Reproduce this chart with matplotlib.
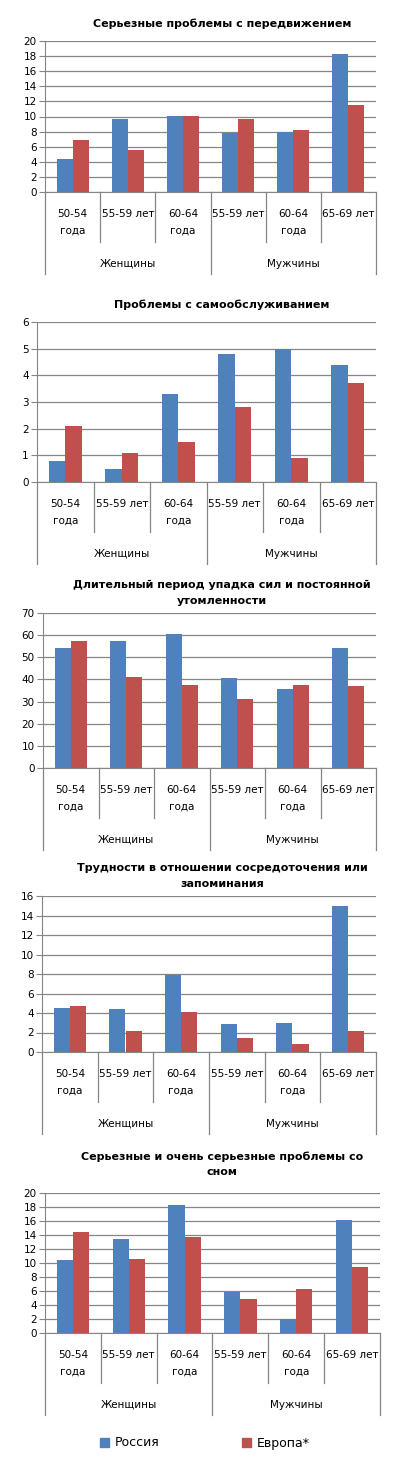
import numpy as np
import matplotlib
matplotlib.use("Agg")
import matplotlib.pyplot as plt
from matplotlib.transforms import blended_transform_factory
from matplotlib.patches import Patch

W, H = 395, 1465

categories = ["50-54\nгода", "55-59 лет", "60-64\nгода", "55-59 лет", "60-64\nгода", "65-69 лет"]
groups = ["Женщины", "Мужчины"]
series_names = ["Россия", "Европа*"]

titles = [
    "Серьезные проблемы с передвижением",
    "Проблемы с самообслуживанием",
    "Длительный период упадка сил и постоянной\nутомленности",
    "Трудности в отношении сосредоточения или\nзапоминания",
    "Серьезные и очень серьезные проблемы со\nсном",
]

russia = [
    [4.4, 9.7, 10.1, 7.8, 8.0, 18.3],
    [0.8, 0.5, 3.3, 4.8, 5.0, 4.4],
    [54.0, 57.5, 60.7, 40.5, 35.5, 54.0],
    [4.5, 4.4, 7.9, 2.9, 3.0, 15.0],
    [10.4, 13.5, 18.3, 5.9, 2.0, 16.2],
]
europe = [
    [6.9, 5.6, 10.1, 9.7, 8.2, 11.5],
    [2.1, 1.1, 1.5, 2.8, 0.9, 3.7],
    [57.5, 41.0, 37.4, 31.0, 37.4, 37.0],
    [4.7, 2.2, 4.1, 1.4, 0.85, 2.2],
    [14.5, 10.6, 13.7, 4.9, 6.3, 9.4],
]
ymax = [20, 6, 70, 16, 20]
ystep = [2, 1, 10, 2, 2]

# layout in pixels: left, right, top, bottom, title center y
boxes = [
    (45, 376, 41, 192, 24),
    (37, 376, 322, 482, 305),
    (43, 376, 613, 768, 593),
    (42, 376, 896, 1052, 876),
    (45, 380, 1193, 1333, 1164),
]

blue = "#4F81BD"
red = "#C0504D"
grid = "#868686"

plt.rcParams['font.family'] = ['DejaVu Sans']

fig = plt.figure(figsize=(W / 100, H / 100), dpi=100)

def fy(y):
    return 1 - y / H

for k in range(5):
    l, r, t, b, ty = boxes[k]
    ax = fig.add_axes([l / W, fy(b), (r - l) / W, (b - t) / H])
    x = np.arange(len(categories))
    w = 0.29
    ax.bar(x - w / 2, russia[k], w, color=blue, zorder=3)
    ax.bar(x + w / 2, europe[k], w, color=red, zorder=3)
    ax.set_xlim(-0.5, 5.5)
    ax.set_ylim(0, ymax[k])
    ax.set_yticks(np.arange(0, ymax[k] + 1, ystep[k]))
    ax.yaxis.grid(True, color=grid, linewidth=0.9, zorder=0)
    ax.set_xticks([])
    for s in ["top", "right"]:
        ax.spines[s].set_visible(False)
    ax.spines["left"].set_color(grid)
    ax.spines["bottom"].set_color(grid)
    ax.tick_params(axis="y", length=4, color=grid, labelsize=7.5, pad=2)

    tr = blended_transform_factory(ax.transData, fig.transFigure)
    for i, lab in enumerate(categories):
        lines = lab.split("\n")
        for j, s in enumerate(lines):
            ax.text(i, fy(b + 22 + 17 * j), s, transform=tr, ha="center", va="center",
                    fontsize=7.5, clip_on=False)
    for bnd in range(7):
        xb = bnd - 0.5
        yend = b + 82 if bnd in (0, 3, 6) else b + 50
        ax.plot([xb, xb], [fy(b), fy(yend)], transform=tr, color=grid, linewidth=0.9,
                clip_on=False)
    for g, name in enumerate(groups):
        ax.text(1 + 3 * g, fy(b + 72), name, transform=tr, ha="center", va="center",
                fontsize=7.5, clip_on=False)

    fig.text(222 / W, fy(ty), titles[k], ha="center", va="center", fontsize=8,
             fontweight="bold", linespacing=1.65)

handles = [Patch(color=blue, label=series_names[0]), Patch(color=red, label=series_names[1])]
fig.legend(handles=handles, loc="center", bbox_to_anchor=(205 / W, fy(1443)), ncol=2,
           frameon=False, fontsize=9, handlelength=0.7, handleheight=0.7,
           columnspacing=6.6, handletextpad=0.5)

fig.savefig("out.png", dpi=100)
